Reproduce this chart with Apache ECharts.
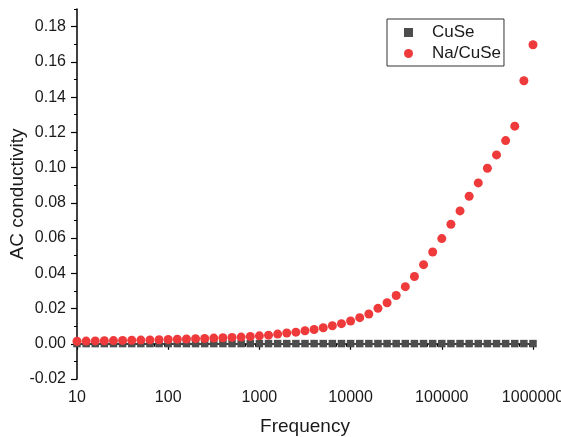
<!DOCTYPE html>
<html>
<head>
<meta charset="utf-8">
<script src="https://cdn.jsdelivr.net/npm/echarts@6/dist/echarts.min.js"></script>
<style>
	html, body { margin: 0; padding: 0; background: #fff; }
	#show { width: 561px; height: 437px; }
</style>
</head>
<body>
<div id="show"></div>
<script>
	// frequency (Hz), 10 points per decade
	var freq = [
		10, 12.59, 15.85, 19.95, 25.12, 31.62, 39.81, 50.12, 63.10, 79.43,
		100, 125.9, 158.5, 199.5, 251.2, 316.2, 398.1, 501.2, 631.0, 794.3,
		1000, 1259, 1585, 1995, 2512, 3162, 3981, 5012, 6310, 7943,
		10000, 12589, 15849, 19953, 25119, 31623, 39811, 50119, 63096, 79433,
		100000, 125893, 158489, 199526, 251189, 316228, 398107, 501187, 630957, 794328,
		1000000
	];

	// AC conductivity
	var cuse = [
		0.0001, 0.0001, 0.0001, 0.0001, 0.0001, 0.0001, 0.0001, 0.0001, 0.0001, 0.0001,
		0.0001, 0.0001, 0.0001, 0.0001, 0.0001, 0.0001, 0.0001, 0.0001, 0.0001, 0.0001,
		0.0001, 0.0001, 0.0001, 0.0001, 0.0001, 0.0001, 0.0001, 0.0001, 0.0001, 0.0001,
		0.0001, 0.0001, 0.0001, 0.0001, 0.0001, 0.0001, 0.0001, 0.0001, 0.0001, 0.0001,
		0.0001, 0.0001, 0.0001, 0.0001, 0.0001, 0.0001, 0.0001, 0.0001, 0.0001, 0.0001,
		0.0001
	];
	var naCuse = [
		0.0014, 0.0015, 0.0016, 0.0017, 0.0018, 0.0019, 0.0020, 0.0021, 0.0022, 0.0023,
		0.0024, 0.0026, 0.0027, 0.0029, 0.0030, 0.0032, 0.0034, 0.0036, 0.0038, 0.0041,
		0.0045, 0.0049, 0.0055, 0.0061, 0.0066, 0.0074, 0.0081, 0.0091, 0.0102, 0.0114,
		0.0129, 0.0148, 0.0169, 0.0201, 0.0233, 0.0274, 0.0324, 0.0382, 0.0449, 0.0521,
		0.0597, 0.0678, 0.0754, 0.0837, 0.0913, 0.0996, 0.1072, 0.1153, 0.1235, 0.1493,
		0.1697
	];

	// tick values
	var xTicks = [10, 100, 1000, 10000, 100000, 1000000];
	var xMinorTicks = [
		20, 30, 40, 50, 60, 70, 80, 90,
		200, 300, 400, 500, 600, 700, 800, 900,
		2000, 3000, 4000, 5000, 6000, 7000, 8000, 9000,
		20000, 30000, 40000, 50000, 60000, 70000, 80000, 90000,
		200000, 300000, 400000, 500000, 600000, 700000, 800000, 900000
	];
	var yTicks = [-0.02, 0, 0.02, 0.04, 0.06, 0.08, 0.10, 0.12, 0.14, 0.16, 0.18];
	var yMinorTicks = [-0.01, 0.01, 0.03, 0.05, 0.07, 0.09, 0.11, 0.13, 0.15, 0.17, 0.19];

	var font = 'Arial, "Liberation Sans", sans-serif';
	var ink = '#1a1a1a';

	function pairs(xs, ys) {
		var out = [];
		for (var i = 0; i < xs.length; i++) {
			out.push([xs[i], ys[i]]);
		}
		return out;
	}

	var myEchart = echarts.init(document.getElementById("show"), null, { renderer: 'canvas' });

	var option = {
		animation: false,
		backgroundColor: '#fff',
		textStyle: { fontFamily: font, color: ink },
		grid: { left: 77, right: 28, top: 9, bottom: 58, containLabel: false, outerBoundsMode: 'none' },
		legend: {
			orient: 'vertical',
			left: 387,
			top: 19,
			padding: [5, 3, 4, 17],
			itemGap: 4,
			itemWidth: 9,
			itemHeight: 9,
			borderColor: '#333',
			borderWidth: 1,
			textStyle: { fontFamily: font, fontSize: 17, color: ink, padding: [0, 0, 0, 14] },
			data: ['CuSe', 'Na/CuSe']
		},
		xAxis: [{
			type: 'log',
			logBase: 10,
			min: 10,
			max: 1000000,
			name: 'Frequency',
			nameLocation: 'middle',
			nameGap: 38,
			nameMoveOverlap: false,
			nameTextStyle: { fontFamily: font, fontSize: 19, color: ink },
			axisLine: { lineStyle: { color: '#000', width: 1.5 } },
			axisTick: { inside: false, length: 6, customValues: xTicks, lineStyle: { color: '#000', width: 1.2 } },
			axisLabel: {
				margin: 11,
				fontFamily: font,
				fontSize: 16,
				color: ink,
				customValues: xTicks,
				formatter: function (v) { return String(Math.round(v)); }
			},
			splitLine: { show: false }
		}, {
			// minor ticks only
			type: 'log',
			logBase: 10,
			min: 10,
			max: 1000000,
			position: 'bottom',
			axisLine: { show: false },
			axisTick: { inside: false, length: 3, customValues: xMinorTicks, lineStyle: { color: '#000', width: 1 } },
			axisLabel: { show: false },
			splitLine: { show: false }
		}],
		yAxis: [{
			type: 'value',
			min: -0.02,
			max: 0.19,
			interval: 0.02,
			name: 'AC conductivity',
			nameLocation: 'middle',
			nameGap: 50,
			nameMoveOverlap: false,
			nameTextStyle: { fontFamily: font, fontSize: 19, color: ink },
			axisLine: { show: true, lineStyle: { color: '#000', width: 1.5 } },
			axisTick: { show: true, inside: false, length: 6, customValues: yTicks, lineStyle: { color: '#000', width: 1.2 } },
			axisLabel: {
				margin: 11,
				fontFamily: font,
				fontSize: 16,
				color: ink,
				customValues: yTicks,
				formatter: function (v) { return v.toFixed(2); }
			},
			splitLine: { show: false }
		}, {
			// minor ticks only
			type: 'value',
			min: -0.02,
			max: 0.19,
			position: 'left',
			axisLine: { show: false },
			axisTick: { show: true, inside: false, length: 3, customValues: yMinorTicks, lineStyle: { color: '#000', width: 1 } },
			axisLabel: { show: false },
			splitLine: { show: false }
		}],
		series: [{
			name: 'CuSe',
			type: 'scatter',
			symbol: 'rect',
			symbolSize: 7.5,
			itemStyle: { color: '#4d4d4d', opacity: 1 },
			data: pairs(freq, cuse)
		}, {
			name: 'Na/CuSe',
			type: 'scatter',
			symbol: 'circle',
			symbolSize: 9,
			itemStyle: { color: '#ef3a3c', opacity: 1 },
			data: pairs(freq, naCuse)
		}]
	};

	myEchart.setOption(option);
</script>
</body>
</html>
